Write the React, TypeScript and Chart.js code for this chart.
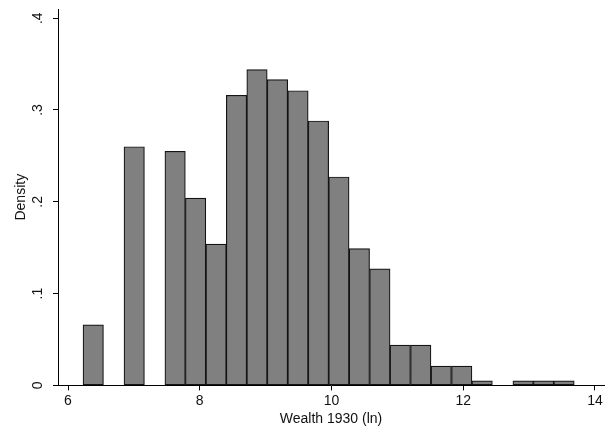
import React, { useEffect, useRef } from "react";
import { Chart, registerables } from "chart.js";

Chart.register(...registerables);

// Bin centers (ln wealth) and densities
const binCenters = [
  6.383, 6.694, 7.005, 7.316, 7.626, 7.937, 8.248, 8.558, 8.869, 9.18, 9.491, 9.802,
  10.112, 10.423, 10.734, 11.044, 11.355, 11.666, 11.977, 12.287, 12.598, 12.909, 13.22, 13.53,
];
const densities: (number | null)[] = [
  0.066, null, 0.26, null, 0.255, 0.204, 0.154, 0.316, 0.344, 0.333, 0.321, 0.288,
  0.227, 0.149, 0.127, 0.044, 0.044, 0.021, 0.021, 0.005, null, 0.005, 0.005, 0.005,
];
const xTicks = [6, 8, 10, 12, 14];
const yTicks = [0, 0.1, 0.2, 0.3, 0.4];
const yTickLabels = ["0", ".1", ".2", ".3", ".4"];
const xTitle = "Wealth 1930 (ln)";
const yTitle = "Density";

export default function App() {
  const ref = useRef<HTMLCanvasElement | null>(null);
  useEffect(() => {
    if (!ref.current) return;
    const font = { family: "'Liberation Sans', Arial, sans-serif", size: 14 };
    const chart = new Chart(ref.current, {
      type: "bar",
      data: {
        datasets: [
          {
            data: binCenters.map((x, i) => ({ x, y: densities[i] })) as any,
            backgroundColor: "#808080",
            borderColor: "#141414",
            borderWidth: 1.2,
            borderSkipped: false,
            barPercentage: 1,
            categoryPercentage: 1,
          },
        ],
      },
      options: {
        animation: false,
        responsive: true,
        maintainAspectRatio: false,
        layout: { padding: { left: 0, right: 9, top: 9, bottom: 4 } },
        plugins: { legend: { display: false }, tooltip: { enabled: false } },
        scales: {
          x: {
            type: "linear",
            min: 5.848,
            max: 14.137,
            offset: false,
            afterBuildTicks: (s: any) => {
              s.ticks = xTicks.map((v) => ({ value: v }));
            },
            ticks: { font, color: "#111", padding: 2, maxRotation: 0 },
            grid: { offset: false, drawOnChartArea: false, drawTicks: true, tickLength: 5, color: "#000", lineWidth: 1 },
            border: { display: true, color: "#000", width: 1 },
            title: { display: true, text: xTitle, font, color: "#111", padding: { top: 0, bottom: 0 } },
          },
          y: {
            min: 0,
            max: 0.41,
            afterBuildTicks: (s: any) => {
              s.ticks = yTicks.map((v) => ({ value: v }));
            },
            afterFit: (s: any) => {
              s.width = 58;
              s.paddingTop = 0;
              s.paddingBottom = 0;
            },
            ticks: {
              font,
              color: "#111",
              padding: 9,
              minRotation: 90,
              maxRotation: 90,
              crossAlign: "center",
              callback: (v: any) => {
                const i = yTicks.findIndex((t) => Math.abs(t - Number(v)) < 1e-9);
                return i >= 0 ? yTickLabels[i] : "";
              },
            },
            grid: { offset: false, drawOnChartArea: false, drawTicks: true, tickLength: 5, color: "#000", lineWidth: 1 },
            border: { display: true, color: "#000", width: 1 },
            title: { display: true, text: yTitle, font, color: "#111", padding: { top: 13, bottom: 0 } },
          },
        },
      },
    });
    return () => chart.destroy();
  }, []);
  return (
    <div style={{ position: "fixed", left: 0, top: 0, width: 613, height: 432, background: "#fff" }}>
      <canvas ref={ref} />
    </div>
  );
}
